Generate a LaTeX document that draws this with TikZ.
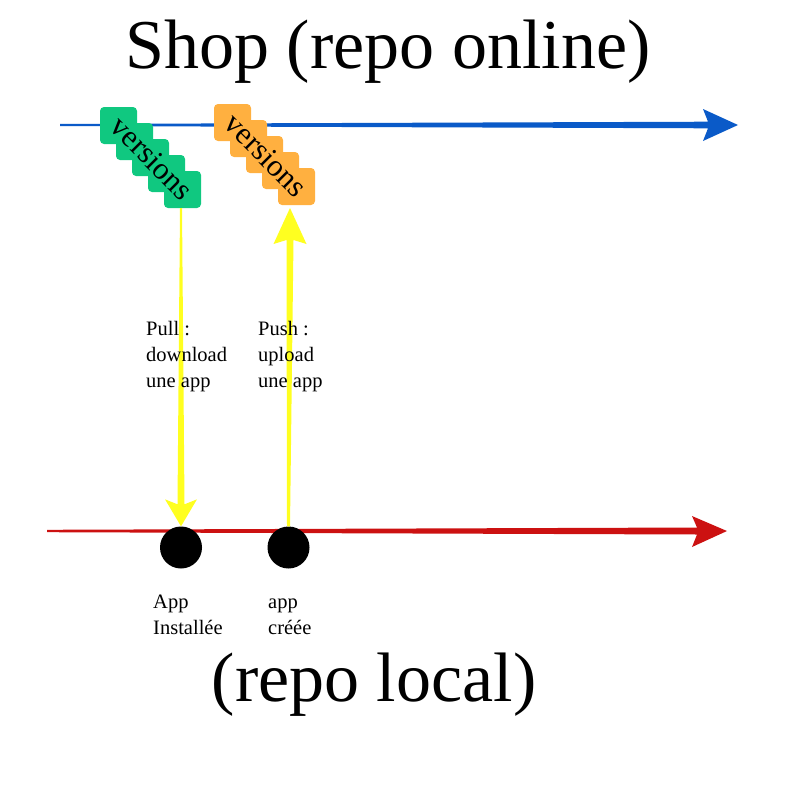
\documentclass[tikz,border=0pt]{standalone}
\usepackage{fontspec}
\setmainfont{Liberation Serif}
\usetikzlibrary{calc}
\definecolor{blueC}{RGB}{10,90,200}
\definecolor{redC}{RGB}{204,17,17}
\definecolor{greenC}{RGB}{16,200,128}
\definecolor{orangeC}{RGB}{255,176,64}
\definecolor{yellowC}{RGB}{255,255,32}
\tikzset{
  verbox/.style={rounded corners=4pt},
  dot/.style={circle, fill=black, minimum size=42pt, inner sep=0pt},
  smalllabel/.style={anchor=base west, inner sep=0pt, align=left, font=\fontsize{20.5}{25.7}\selectfont},
  bigtitle/.style={inner sep=0pt, font=\fontsize{70}{76}\selectfont},
  vertext/.style={rotate=-45, inner sep=0pt, font=\fontsize{31}{34}\selectfont}
}
\begin{document}
\begin{tikzpicture}[x=1pt,y=-1pt]
\useasboundingbox (0,0) rectangle (800,800);
% timelines
\coordinate (bS) at (60,125);
\coordinate (bE) at (738,125);
\coordinate (rS) at (47,531);
\coordinate (rE) at (727,531);
\fill[blueC] ($(bS)+(0,-1)$) -- ($(bE)+(-30,-3.3)$) -- ($(bE)+(-35,-16)$) -- (bE) -- ($(bE)+(-35,16)$) -- ($(bE)+(-30,3.3)$) -- ($(bS)+(0,1)$) -- cycle;
\fill[redC] ($(rS)+(0,-1.2)$) -- ($(rE)+(-30,-3.5)$) -- ($(rE)+(-35,-15)$) -- (rE) -- ($(rE)+(-35,16)$) -- ($(rE)+(-30,3.5)$) -- ($(rS)+(0,1.2)$) -- cycle;
% version stacks
\foreach \i in {0,...,4} {
  \fill[greenC, verbox] ($(100,107)+(\i*16,\i*16)$) rectangle ++(37,37);
  \fill[orangeC, verbox] ($(214,104)+(\i*16,\i*16)$) rectangle ++(37,37);
}
\node[vertext] (vgreen) at (152,158) {versions};
\node[vertext] (vorange) at (266,155) {versions};
\coordinate (gBot) at (181,208);
% dots
\node[dot] (inst) at (181,547.5) {};
\node[dot] (cree) at (288.5,547.5) {};
% pull arrow (down)
\coordinate (pullTip) at (inst.north);
\fill[yellowC] ($(gBot)+(-1,0)$) -- ($(gBot)+(1,0)$) -- ($(pullTip)+(3.5,-22)$) -- ($(pullTip)+(16,-27)$) -- (pullTip) -- ($(pullTip)+(-16,-27)$) -- ($(pullTip)+(-3.5,-22)$) -- cycle;
% push arrow (up)
\coordinate (pushBot) at (cree.north);
\coordinate (pushTip) at (290,208);
\fill[yellowC] ($(pushBot)+(-1.5,0)$) -- ($(pushBot)+(1.5,0)$) -- ($(pushTip)+(3.5,32)$) -- ($(pushTip)+(16.5,36)$) -- (pushTip) -- ($(pushTip)+(-16.5,36)$) -- ($(pushTip)+(-3.5,32)$) -- cycle;
% labels
\node[smalllabel] (pull) at (146,387) {Pull :\\download\\une app};
\node[smalllabel] (push) at (258,387) {Push :\\upload\\une app};
\node[smalllabel] (linst) at (153,634.5) {App\\Installée};
\node[smalllabel] (lcree) at (268,634.5) {app\\créée};
% titles
\node[bigtitle, anchor=base] (shop) at (388,69) {Shop (repo online)};
\node[bigtitle, anchor=base] (local) at (374,701) {(repo local)};
\end{tikzpicture}
\end{document}
